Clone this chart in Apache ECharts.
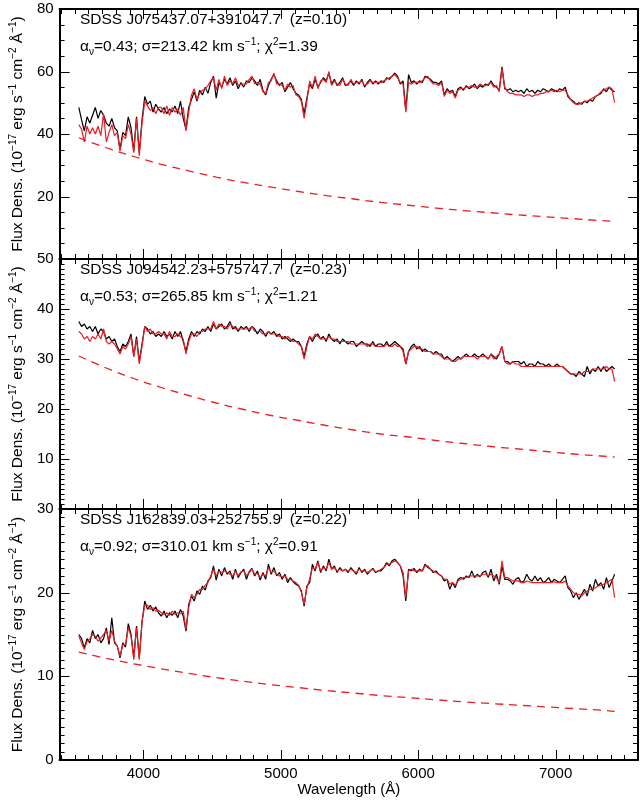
<!DOCTYPE html>
<html>
<head>
<meta charset="utf-8">
<script src="https://cdn.jsdelivr.net/npm/echarts@6/dist/echarts.min.js"></script>
<style>
  html, body { margin: 0; padding: 0; background: #fff; }
  #chart { width: 640px; height: 800px; }
</style>
</head>
<body>
<div id="chart"></div>
<script>
// wavelength grid of the spectra (Angstrom), 20 A sampling
const waveStart = 3530
const waveStep = 20
const nPix = 196
const wavelength = Array.from({ length: nPix }, (_, i) => waveStart + i * waveStep)

// SDSS J075437.07+391047.7 : observed (black) and fitted model (red)
const obs1 = [
  48.5, 44.5, 41.0, 45.5, 43.5, 46.0, 48.5, 45.0, 47.5, 46.0,
  43.5, 42.5, 45.0, 42.0, 41.0, 35.0, 40.5, 39.5, 45.5, 42.0,
  34.5, 45.5, 34.0, 44.5, 52.0, 49.5, 50.5, 47.0, 49.5, 48.0,
  47.0, 48.5, 46.5, 48.0, 47.0, 49.0, 46.5, 50.5, 45.0, 41.5,
  48.5, 51.0, 53.5, 50.5, 54.0, 52.5, 55.0, 53.0, 56.5, 58.5,
  51.5, 56.5, 55.0, 57.5, 56.0, 58.0, 55.5, 57.0, 54.5, 56.5,
  55.0, 57.0, 56.5, 58.0, 57.0, 55.5, 57.5, 54.0, 52.5, 55.5,
  57.5, 59.0, 57.0, 55.5, 56.5, 53.5, 55.0, 56.5, 54.5, 53.0,
  52.5, 51.0, 46.5, 51.5, 56.0, 54.5, 57.5, 55.0, 56.5, 58.0,
  57.0, 59.5, 56.0, 57.5, 55.5, 56.5, 58.0, 55.5, 56.0, 57.0,
  55.5, 57.0, 56.0, 57.5, 55.0, 56.5, 57.5, 56.0, 57.0, 56.0,
  57.0, 56.5, 58.0, 57.5, 58.5, 59.5, 58.5, 56.0, 57.0, 47.5,
  59.0, 56.5, 57.0, 56.0, 57.0, 56.5, 58.5, 58.0, 57.5, 56.5,
  56.5, 56.0, 57.0, 52.5, 54.5, 53.5, 54.0, 52.0, 54.5, 55.0,
  54.0, 55.5, 54.5, 55.0, 56.0, 54.5, 55.5, 55.0, 56.0, 55.5,
  57.0, 55.5, 55.0, 54.0, 61.5, 54.5, 54.0, 54.5, 53.5, 54.0,
  53.5, 54.0, 53.0, 54.5, 53.5, 54.0, 53.0, 54.0, 53.5, 54.5,
  54.0, 53.5, 54.5, 54.0, 53.5, 54.5, 54.0, 55.0, 52.0, 51.0,
  50.5, 49.5, 50.0, 49.5, 50.5, 50.0, 51.0, 50.5, 52.0, 52.5,
  53.0, 54.5, 53.5, 55.0, 54.0, 53.5
]
const model1 = [
  43.0, 41.5, 37.5, 42.5, 40.0, 42.0, 40.0, 42.5, 39.5, 46.5,
  37.5, 40.5, 43.0, 39.5, 40.5, 34.5, 39.5, 38.5, 43.0, 40.0,
  34.0, 45.0, 33.0, 43.5, 50.5, 49.0, 47.5, 48.5, 46.5, 48.5,
  48.5, 46.5, 49.0, 46.0, 48.5, 47.0, 48.0, 46.0, 48.5, 41.0,
  47.0, 52.5, 54.5, 51.0, 53.0, 54.0, 54.5, 55.5, 57.0, 58.0,
  54.0, 57.5, 54.5, 58.5, 55.5, 57.0, 56.0, 58.0, 55.5, 56.0,
  56.0, 56.0, 57.5, 58.5, 56.0, 56.5, 56.0, 53.5, 53.0, 56.5,
  57.0, 59.5, 56.0, 56.0, 55.5, 54.0, 56.0, 55.0, 55.5, 52.5,
  52.0, 50.5, 45.0, 50.5, 57.0, 55.0, 58.5, 54.5, 57.0, 57.5,
  56.5, 60.0, 55.5, 57.0, 56.0, 55.5, 57.5, 56.0, 55.5, 57.5,
  56.0, 56.5, 56.5, 57.0, 55.5, 56.0, 57.0, 56.5, 56.5, 56.5,
  56.5, 57.0, 57.5, 58.0, 58.5, 59.0, 58.0, 56.5, 56.0, 47.0,
  56.5, 56.0, 56.5, 56.5, 56.5, 57.0, 58.0, 58.5, 57.0, 56.0,
  56.0, 55.5, 56.5, 52.0, 54.0, 53.0, 53.5, 51.5, 54.0, 54.5,
  54.5, 55.0, 55.0, 55.5, 55.0, 55.0, 56.0, 55.5, 55.5, 56.0,
  56.5, 55.0, 55.5, 53.5, 61.0, 55.0, 53.5, 53.0, 53.0, 52.5,
  52.5, 52.5, 52.0, 52.5, 52.5, 52.0, 52.5, 52.5, 53.0, 53.0,
  53.5, 53.5, 54.0, 53.5, 54.0, 53.5, 54.0, 54.0, 52.5, 51.0,
  50.0, 49.5, 49.5, 50.0, 50.5, 50.5, 51.0, 51.5, 52.0, 52.5,
  53.5, 54.0, 54.5, 55.0, 54.5, 50.0
]

// SDSS J094542.23+575747.7
const obs2 = [
  37.5, 36.5, 37.0, 36.0, 36.5, 35.5, 36.5, 35.0, 36.0, 35.5,
  34.0, 34.5, 33.5, 34.0, 32.5, 31.5, 33.0, 32.5, 33.5, 35.0,
  30.5, 34.5, 29.5, 33.0, 36.5, 36.0, 35.0, 35.5, 34.5, 35.0,
  34.5, 35.5, 34.5, 35.0, 34.0, 35.5, 34.5, 35.5, 33.5, 31.5,
  34.0, 35.5, 34.5, 35.5, 35.0, 36.0, 35.5, 36.5, 35.5, 37.0,
  36.0, 36.5, 37.0, 36.0, 36.5, 37.5, 36.0, 36.5, 35.5, 36.5,
  36.0, 36.5, 35.5, 36.5, 36.0, 35.0, 36.0, 35.5, 34.5, 35.5,
  35.0, 35.5, 34.5, 35.0, 34.0, 34.5, 34.0, 33.5, 34.0, 33.5,
  33.5, 32.5, 30.5, 33.0, 34.5, 33.5, 34.5, 35.0, 34.0, 34.5,
  33.5, 35.0, 34.0, 33.5, 34.0, 33.0, 34.0, 33.5, 33.0, 33.5,
  33.5, 32.5, 33.0, 33.5, 33.0, 33.0, 32.5, 33.5, 32.5, 33.0,
  33.0, 32.5, 33.5, 32.5, 33.0, 33.5, 33.0, 32.5, 32.0, 29.0,
  31.5, 32.5, 33.0, 32.0, 32.5, 31.5, 32.0, 31.5, 31.5, 31.0,
  31.5, 31.0, 31.0, 30.0, 30.5, 30.0, 29.5, 30.0, 30.5, 30.0,
  30.5, 31.0, 30.5, 30.5, 31.0, 30.5, 30.5, 31.0, 30.5, 30.0,
  31.0, 30.5, 30.0, 31.0, 32.5, 29.5, 29.5, 29.0, 29.5, 29.5,
  29.5, 29.0, 29.5, 28.5, 29.0, 29.0, 28.5, 29.5, 29.0, 29.0,
  28.5, 29.0, 28.5, 28.5, 29.0, 28.5, 28.5, 28.0, 27.5, 27.0,
  27.0, 26.5, 27.5, 27.0, 26.5, 28.5, 27.0, 28.0, 27.5, 28.5,
  27.5, 28.5, 27.5, 28.0, 28.5, 28.0
]
const model2 = [
  35.5, 35.0, 34.0, 34.5, 33.5, 34.5, 34.0, 35.0, 34.0, 36.0,
  33.5, 33.0, 33.5, 33.0, 32.0, 31.0, 32.5, 32.0, 33.0, 34.5,
  30.5, 34.0, 29.0, 32.5, 36.5, 35.5, 36.0, 35.0, 35.0, 35.5,
  35.0, 35.0, 34.0, 35.5, 34.5, 34.5, 35.0, 34.5, 34.0, 31.0,
  33.5, 35.0, 35.0, 34.5, 35.5, 35.5, 36.0, 36.0, 36.0, 37.5,
  36.0, 37.0, 36.5, 36.5, 36.0, 37.0, 36.5, 36.0, 36.0, 36.0,
  36.0, 36.0, 36.0, 36.5, 35.5, 35.5, 35.5, 35.0, 35.0, 35.5,
  35.0, 35.0, 35.0, 34.5, 34.5, 34.0, 34.5, 34.0, 33.5, 33.5,
  33.0, 32.5, 30.0, 32.5, 34.5, 34.0, 35.0, 34.5, 34.0, 34.0,
  34.0, 34.5, 34.0, 34.0, 33.5, 33.5, 33.5, 33.5, 33.5, 33.0,
  33.0, 33.0, 33.0, 33.0, 33.0, 32.5, 33.0, 33.0, 32.5, 32.5,
  32.5, 32.5, 33.0, 32.5, 32.5, 33.0, 32.5, 32.5, 31.5, 29.0,
  31.5, 32.0, 32.5, 32.5, 32.0, 32.0, 31.5, 31.5, 31.5, 31.0,
  31.0, 31.0, 30.5, 30.0, 30.0, 30.0, 29.5, 29.5, 30.0, 30.0,
  30.5, 30.5, 30.5, 30.5, 30.5, 30.0, 30.5, 30.5, 30.5, 30.0,
  31.0, 30.0, 30.5, 31.0, 32.5, 29.5, 29.0, 29.0, 29.5, 29.0,
  29.0, 28.5, 28.5, 28.5, 28.5, 28.5, 28.5, 28.5, 28.5, 28.5,
  28.5, 28.5, 28.5, 28.5, 28.5, 28.5, 28.5, 28.0, 27.5, 27.0,
  27.0, 27.0, 27.0, 27.0, 27.5, 27.5, 27.5, 28.0, 28.0, 28.0,
  28.0, 28.0, 28.5, 28.0, 28.0, 25.5
]

// SDSS J162839.03+252755.9
const obs3 = [
  15.0, 14.5, 13.4, 14.5, 14.0, 15.5, 14.5, 15.0, 14.0, 14.5,
  15.8, 13.8, 17.0, 14.0, 13.6, 12.2, 14.0, 13.5, 16.3, 15.0,
  12.3, 16.0, 12.2, 16.5, 19.0, 18.0, 18.5, 17.8, 18.3, 17.6,
  17.2, 17.8, 17.0, 17.6, 17.3, 17.8, 17.0, 18.0, 17.2, 15.4,
  18.6, 19.6, 19.0, 20.2, 19.8, 20.8, 20.3, 21.4, 21.8, 23.2,
  21.5, 22.8, 22.0, 23.0, 22.2, 22.6, 21.6, 22.8, 21.8, 22.4,
  22.8, 21.6, 22.5, 22.9, 22.0, 22.6, 21.5, 22.4, 21.6, 23.4,
  22.2, 23.0, 22.0, 22.4, 21.6, 22.2, 21.2, 21.8, 21.3, 21.0,
  20.8, 20.2, 18.4, 20.8, 21.2, 23.4, 22.6, 23.8, 22.4, 23.2,
  22.6, 24.0, 22.8, 23.2, 22.4, 23.0, 22.6, 22.8, 22.4, 23.0,
  22.6, 22.2, 23.0, 22.4, 22.8, 22.2, 22.6, 22.9, 22.4, 22.6,
  22.6, 23.0, 23.6, 23.2, 23.8, 24.0, 23.6, 23.2, 22.0, 19.0,
  22.8, 22.6, 22.9, 22.4, 22.8, 22.6, 23.4, 23.0, 22.8, 22.4,
  22.6, 22.2, 22.0, 21.4, 21.6, 20.4, 21.2, 20.6, 21.6, 21.8,
  21.6, 22.0, 21.8, 22.6, 21.8, 22.2, 21.9, 22.4, 22.6, 21.8,
  22.8, 21.4, 22.2, 21.0, 23.2, 21.6, 21.6, 21.4, 21.0, 21.6,
  21.8, 21.2, 21.4, 22.2, 21.6, 21.4, 22.0, 21.4, 21.8, 21.2,
  21.4, 21.8, 21.2, 21.6, 21.4, 21.2, 21.6, 22.0, 20.6, 20.2,
  19.4, 20.0, 19.2, 19.8, 20.4, 19.6, 21.0, 20.2, 21.6, 20.8,
  21.2, 20.4, 21.8, 20.6, 21.4, 22.2
]
const model3 = [
  14.8, 14.0, 13.2, 14.2, 14.5, 15.0, 14.8, 14.2, 14.6, 15.0,
  15.5, 14.2, 15.5, 14.2, 13.6, 12.4, 13.8, 13.8, 15.8, 14.8,
  12.0, 15.8, 12.0, 16.5, 18.5, 18.5, 18.0, 18.2, 17.8, 17.9,
  17.6, 17.4, 17.6, 17.3, 17.8, 17.4, 17.6, 17.5, 17.8, 15.6,
  18.2, 19.8, 19.4, 19.8, 20.4, 20.4, 20.9, 21.2, 22.0, 22.8,
  22.0, 22.6, 22.4, 22.6, 22.4, 22.2, 22.0, 22.6, 22.0, 22.5,
  22.6, 22.0, 22.4, 22.8, 22.2, 22.3, 21.8, 22.2, 22.0, 23.0,
  22.4, 22.6, 22.2, 22.0, 21.9, 22.0, 21.6, 21.6, 21.4, 21.2,
  20.9, 20.0, 18.6, 20.6, 21.6, 23.0, 22.8, 23.6, 22.6, 23.0,
  22.8, 23.6, 22.8, 23.0, 22.6, 22.8, 22.6, 22.8, 22.6, 22.8,
  22.6, 22.4, 22.8, 22.6, 22.6, 22.4, 22.6, 22.8, 22.5, 22.6,
  22.8, 23.0, 23.4, 23.4, 23.6, 23.8, 23.6, 23.2, 22.4, 19.4,
  22.6, 22.8, 22.6, 22.6, 22.6, 22.6, 23.2, 23.2, 22.8, 22.6,
  22.4, 22.2, 22.0, 21.6, 21.6, 21.0, 21.2, 20.9, 21.4, 21.6,
  21.8, 21.8, 22.0, 22.0, 22.0, 22.0, 22.0, 22.2, 22.2, 22.0,
  22.2, 22.0, 21.8, 21.2, 23.8, 21.8, 21.8, 21.6, 21.4, 21.4,
  21.4, 21.2, 21.2, 21.4, 21.3, 21.2, 21.2, 21.2, 21.2, 21.2,
  21.2, 21.2, 21.2, 21.3, 21.2, 21.2, 21.2, 21.4, 20.8, 20.4,
  20.0, 19.8, 19.8, 19.6, 20.0, 20.2, 20.4, 20.4, 20.6, 20.8,
  20.9, 21.0, 21.2, 21.4, 21.6, 19.4
]

// power-law (AGN) component, dashed red
const plWave = [3530, 3730, 3930, 4130, 4330, 4530, 4730, 4930, 5130, 5330, 5530,
  5730, 5930, 6130, 6330, 6530, 6730, 6930, 7130, 7330, 7430]
const pl1 = [38.8, 35.6, 32.8, 30.3, 28.2, 26.2, 24.5, 23.0, 21.6, 20.3, 19.2,
  18.1, 17.2, 16.3, 15.5, 14.8, 14.1, 13.5, 12.9, 12.3, 12.1]
const pl2 = [30.6, 28.2, 26.1, 24.3, 22.7, 21.2, 19.9, 18.7, 17.7, 16.7, 15.8,
  15.0, 14.4, 13.7, 13.1, 12.5, 12.0, 11.5, 11.0, 10.6, 10.4]
const pl3 = [12.9, 12.15, 11.5, 10.9, 10.35, 9.85, 9.4, 9.0, 8.65, 8.3, 8.0,
  7.7, 7.45, 7.2, 6.95, 6.75, 6.55, 6.35, 6.15, 5.95, 5.8]

// panel labels
const objNames = ['SDSS J075437.07+391047.7  (z=0.10)', 'SDSS J094542.23+575747.7  (z=0.23)', 'SDSS J162839.03+252755.9  (z=0.22)']
const alphaNu = ['0.43', '0.53', '0.92']
const sigmas = ['213.42', '265.85', '310.01']
const chi2 = ['1.39', '1.21', '0.91']

// axes
const xMin = 3390
const xMax = 7600
const xMajorTicks = [4000, 5000, 6000, 7000]
const xMinorStep = 100
const yMax = [80, 50, 30]
const yStep = [20, 10, 10]
const yMinorStep = [5, 1, 1]
const panelTop = [9, 259, 509]
const panelHeight = [250, 250, 251]
const MAJOR_LEN = 10
const MINOR_LEN = 5

const FONT = 'Liberation Sans, Arial, sans-serif'
const RED = '#ee1c24'
const pairs = (xs, ys) => xs.map((x, i) => [x, ys[i]])

// tick rows: [value, length]; drawn through the axes' scales by a custom series
const xTickRows = []
for (let w = 3400; w <= xMax; w += xMinorStep) {
  xTickRows.push([w, xMajorTicks.includes(w) ? MAJOR_LEN : MINOR_LEN])
}
const yTickRows = yMax.map((top, i) => {
  const rows = []
  for (let v = 0; v <= top; v += yMinorStep[i]) {
    rows.push([xMin, v, v % yStep[i] === 0 ? MAJOR_LEN : MINOR_LEN])
  }
  return rows
})

const tickStyle = { stroke: '#000', lineWidth: 1 }

function renderXTick(params, api) {
  const cs = params.coordSys
  const x = Math.round(api.coord([api.value(0), 0])[0]) + 0.5
  const len = api.value(1)
  const bottom = cs.y + cs.height
  return {
    type: 'group',
    children: [
      { type: 'line', shape: { x1: x, y1: bottom, x2: x, y2: bottom - len }, style: tickStyle },
      { type: 'line', shape: { x1: x, y1: cs.y, x2: x, y2: cs.y + len }, style: tickStyle }
    ]
  }
}

function renderYTick(params, api) {
  const cs = params.coordSys
  const y = Math.round(api.coord([api.value(0), api.value(1)])[1]) + 0.5
  const len = api.value(2)
  const right = cs.x + cs.width
  return {
    type: 'group',
    children: [
      { type: 'line', shape: { x1: cs.x, y1: y, x2: cs.x + len, y2: y }, style: tickStyle },
      { type: 'line', shape: { x1: right, y1: y, x2: right - len, y2: y }, style: tickStyle }
    ]
  }
}

const frame = () => ({ show: true, onZero: false, lineStyle: { color: '#000', width: 2 } })
const richText = () => ({
  t: { fontSize: 15.5, lineHeight: 20, fontFamily: FONT, color: '#000' },
  sup: { fontSize: 10, lineHeight: 10, verticalAlign: 'top', fontFamily: FONT, color: '#000' },
  sub: { fontSize: 10, lineHeight: 13, verticalAlign: 'bottom', fontFamily: FONT, color: '#000' }
})

const chart = echarts.init(document.getElementById('chart'))

const grid = []
const xAxis = []
const yAxis = []
const title = []
const series = []
const observed = [obs1, obs2, obs3]
const models = [model1, model2, model3]
const powerLaws = [pl1, pl2, pl3]

for (let i = 0; i < 3; i++) {
  grid.push({ left: 54, right: 2, top: panelTop[i], height: panelHeight[i] })

  xAxis.push({
    gridIndex: i, type: 'value', min: xMin, max: xMax, position: 'bottom',
    splitLine: { show: false },
    axisLine: frame(),
    axisTick: { show: false },
    axisLabel: {
      show: i === 2,
      customValues: xMajorTicks.slice(),
      formatter: v => String(v),
      fontSize: 15,
      fontFamily: FONT,
      color: '#000',
      margin: 6
    },
    name: i === 2 ? 'Wavelength (Å)' : '',
    nameLocation: 'middle',
    nameGap: 21,
    nameTextStyle: { fontSize: 15, fontFamily: FONT, color: '#000' }
  })
  xAxis.push({
    gridIndex: i, type: 'value', min: xMin, max: xMax, position: 'top',
    splitLine: { show: false }, axisLine: frame(), axisTick: { show: false }, axisLabel: { show: false }
  })

  yAxis.push({
    gridIndex: i, type: 'value', min: 0, max: yMax[i], interval: yStep[i], position: 'left',
    splitLine: { show: false },
    axisLine: frame(),
    axisTick: { show: false },
    axisLabel: {
      fontSize: 15,
      fontFamily: FONT,
      color: '#000',
      margin: 6,
      showMinLabel: i === 2
    },
    name: '{t|Flux Dens. (10}{sup|−17}{t| erg s}{sup|−1}{t| cm}{sup|−2}{t| Å}{sup|−1}{t|)}',
    nameLocation: 'middle',
    nameGap: 29,
    nameTextStyle: { fontSize: 15, fontFamily: FONT, color: '#000', rich: richText() }
  })
  yAxis.push({
    gridIndex: i, type: 'value', min: 0, max: yMax[i], interval: yStep[i], position: 'right',
    splitLine: { show: false },
    axisLine: frame(),
    axisTick: { show: false },
    axisLabel: { show: false }
  })

  title.push({
    left: 80,
    top: panelTop[i] + 3,
    padding: 0,
    text: objNames[i],
    textStyle: { fontSize: 15.5, fontWeight: 'normal', fontFamily: FONT, color: '#000' }
  })
  title.push({
    left: 80,
    top: panelTop[i] + 28,
    padding: 0,
    text: '{t|α}{sub|ν}{t|=' + alphaNu[i] + '; σ=' + sigmas[i] + ' km s}{sup|−1}{t|; χ}{sup|2}{t|=' + chi2[i] + '}',
    textStyle: { fontSize: 15.5, fontWeight: 'normal', fontFamily: FONT, color: '#000', rich: richText() }
  })

  series.push({
    type: 'line',
    xAxisIndex: 2 * i,
    yAxisIndex: 2 * i,
    data: pairs(wavelength, observed[i]),
    symbol: 'none',
    lineStyle: { color: '#000', width: 1.2 }
  })
  series.push({
    type: 'line',
    xAxisIndex: 2 * i,
    yAxisIndex: 2 * i,
    data: pairs(wavelength, models[i]),
    symbol: 'none',
    lineStyle: { color: RED, width: 1.2 }
  })
  series.push({
    type: 'line',
    xAxisIndex: 2 * i,
    yAxisIndex: 2 * i,
    data: pairs(plWave, powerLaws[i]),
    symbol: 'none',
    smooth: true,
    lineStyle: { color: RED, width: 1.3, type: [8, 6] }
  })
  // axis ticks on all four sides, pointing inward
  series.push({
    type: 'custom',
    xAxisIndex: 2 * i,
    yAxisIndex: 2 * i,
    data: xTickRows,
    renderItem: renderXTick,
    silent: true,
    z: 5
  })
  series.push({
    type: 'custom',
    xAxisIndex: 2 * i,
    yAxisIndex: 2 * i,
    data: yTickRows[i],
    renderItem: renderYTick,
    silent: true,
    z: 5
  })
}

chart.setOption({
  animation: false,
  title,
  grid,
  xAxis,
  yAxis,
  series
})
</script>
</body>
</html>
